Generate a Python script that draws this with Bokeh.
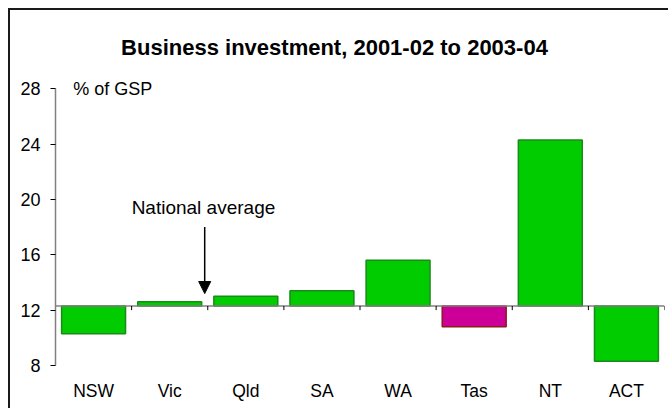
from bokeh.plotting import figure
from bokeh.models import Range1d, FixedTicker, Label, Arrow, NormalHead, ColumnDataSource
from bokeh.embed import file_html
from bokeh.resources import INLINE

# ---- data ----
states = ["NSW", "Vic", "Qld", "SA", "WA", "Tas", "NT", "ACT"]
investment = [10.3, 12.6, 13.0, 13.4, 15.6, 10.8, 24.3, 8.3]
national_average = 12.3
highlight = ["no", "no", "no", "no", "no", "yes", "no", "no"]
y_ticks = [8, 12, 16, 20, 24, 28]

FONT = "Liberation Sans"

p = figure(width=660, height=400, output_backend="svg", toolbar_location=None,
           x_range=Range1d(0, len(states)), y_range=Range1d(8, 33),
           min_border_left=45, min_border_right=6, min_border_top=9, min_border_bottom=45,
           background_fill_color="white", border_fill_color="white")
p.styles = {"border-top": "2px solid #1a1a1a", "border-left": "2px solid #1a1a1a",
            "margin-top": "8px", "margin-left": "8px"}
p.outline_line_color = None
p.xgrid.visible = False
p.ygrid.visible = False

xs = [i + 0.5 for i in range(len(states))]
fills = ["#CC0099" if h == "yes" else "#00CC00" for h in highlight]
lines = ["#8B1A1A" if h == "yes" else "#1A8A1A" for h in highlight]
src = ColumnDataSource(dict(x=xs, top=investment, bottom=[national_average] * len(states),
                            fill=fills, line=lines))
p.vbar(x="x", width=0.84, top="top", bottom="bottom", source=src,
       fill_color="fill", line_color="line", line_width=1.5)

# baseline (crossing axis at national average) with category boundary ticks
p.segment(x0=[0], x1=[len(states)], y0=[national_average], y1=[national_average],
          line_color="#808080", line_width=1.5)
bx = list(range(1, len(states) + 1))
p.segment(x0=bx, x1=bx, y0=[national_average] * len(bx), y1=[national_average - 0.3] * len(bx),
          line_color="black", line_width=1)

# y axis
yax = p.yaxis[0]
yax.ticker = FixedTicker(ticks=y_ticks)
yax.bounds = (y_ticks[0], y_ticks[-1])
yax.axis_line_color = "#808080"
yax.axis_line_width = 1.5
yax.major_tick_line_color = "black"
yax.major_tick_out = 5
yax.major_tick_in = 0
yax.minor_tick_line_color = None
yax.major_label_standoff = 10
yax.major_label_text_font = FONT
yax.major_label_text_font_size = "18px"
yax.major_label_text_color = "black"

# x axis: category labels only
xax = p.xaxis[0]
xax.ticker = FixedTicker(ticks=xs)
xax.major_label_overrides = {x: s for x, s in zip(xs, states)}
xax.axis_line_color = None
xax.major_tick_line_color = None
xax.minor_tick_line_color = None
xax.major_tick_out = 0
xax.major_tick_in = 0
xax.major_label_standoff = 15
xax.major_label_text_font = FONT
xax.major_label_text_font_size = "17.5px"
xax.major_label_text_color = "black"

# texts
p.add_layout(Label(x=3.665, y=30.96, text="Business investment, 2001-02 to 2003-04",
                   text_font=FONT, text_font_size="22px", text_font_style="bold",
                   text_align="center", text_baseline="middle", text_color="black"))
p.add_layout(Label(x=0.232, y=28, text="% of GSP", text_font=FONT, text_font_size="18px",
                   text_baseline="middle", text_color="black"))
p.add_layout(Label(x=1.0, y=19.4, text="National average", text_font=FONT,
                   text_font_size="19px", text_baseline="middle", text_color="black"))
p.add_layout(Arrow(x_start=1.96, y_start=18.0, x_end=1.96, y_end=13.2, line_color="black",
                   line_width=1.5,
                   end=NormalHead(size=12, fill_color="black", line_color="black")))

open("out.html", "w").write(file_html(p, INLINE))
